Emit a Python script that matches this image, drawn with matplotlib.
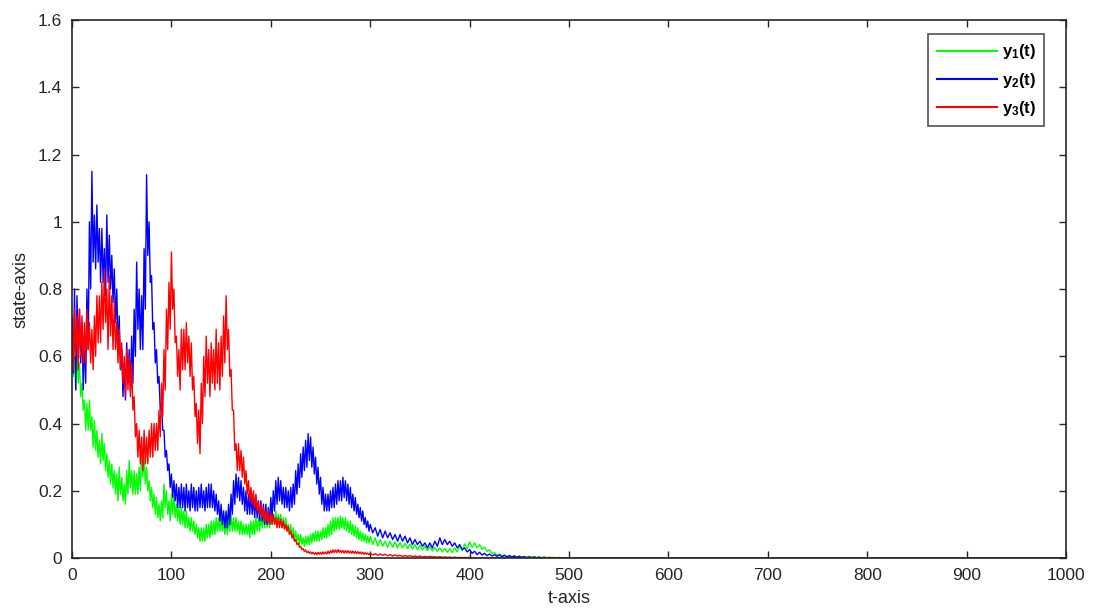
import numpy as np
import matplotlib
matplotlib.use("Agg")
import matplotlib.pyplot as plt

# time grid: 0..297.5 step 2.5, 300..500 step 5 ; each series given as
# upper and lower edge of its noisy band
t_dense = np.arange(0, 300, 2.5)
t_sparse = np.arange(300, 505, 5)

y2_hi = [0.72, 0.80, 0.78, 0.74, 0.70, 0.66, 0.80, 1.00, 1.15, 1.02,
         1.05, 0.98, 0.98, 0.92, 1.02, 0.96, 0.90, 0.86, 0.80, 0.72,
         0.62, 0.58, 0.64, 0.62, 0.66, 0.74, 0.88, 0.80, 0.78, 0.92,
         1.14, 1.00, 0.84, 0.70, 0.62, 0.54, 0.46, 0.38, 0.32, 0.28,
         0.25, 0.23, 0.22, 0.21, 0.22, 0.21, 0.22, 0.20, 0.22, 0.21,
         0.20, 0.21, 0.22, 0.20, 0.21, 0.22, 0.22, 0.20, 0.19, 0.17,
         0.16, 0.14, 0.14, 0.16, 0.19, 0.23, 0.25, 0.24, 0.23, 0.21,
         0.20, 0.19, 0.19, 0.18, 0.18, 0.17, 0.17, 0.16, 0.16, 0.15,
         0.18, 0.20, 0.23, 0.24, 0.23, 0.21, 0.21, 0.20, 0.21, 0.22,
         0.26, 0.28, 0.31, 0.33, 0.35, 0.37, 0.36, 0.33, 0.30, 0.27,
         0.24, 0.21, 0.19, 0.19, 0.20, 0.21, 0.22, 0.23, 0.23, 0.24,
         0.23, 0.22, 0.21, 0.19, 0.18, 0.16, 0.15, 0.14, 0.12, 0.11,
         0.10, 0.09, 0.085, 0.08, 0.075, 0.07, 0.07, 0.065, 0.06, 0.055,
         0.05, 0.045, 0.045, 0.05, 0.06, 0.055, 0.05, 0.045, 0.04, 0.03,
         0.025, 0.02, 0.017, 0.014, 0.012, 0.01, 0.009, 0.008, 0.007, 0.006,
         0.005, 0.004, 0.003, 0.003, 0.002, 0.002, 0.001, 0.001, 0.0, 0.0,
         0.0]
y2_lo = [0.55, 0.50, 0.60, 0.58, 0.50, 0.52, 0.62, 0.80, 0.88, 0.86,
         0.88, 0.82, 0.82, 0.78, 0.82, 0.80, 0.76, 0.70, 0.62, 0.56,
         0.48, 0.47, 0.52, 0.50, 0.52, 0.60, 0.68, 0.62, 0.62, 0.74,
         0.90, 0.82, 0.68, 0.58, 0.52, 0.44, 0.38, 0.30, 0.26, 0.21,
         0.18, 0.17, 0.15, 0.15, 0.15, 0.14, 0.15, 0.14, 0.15, 0.14,
         0.14, 0.15, 0.15, 0.14, 0.15, 0.15, 0.15, 0.14, 0.13, 0.11,
         0.10, 0.09, 0.09, 0.10, 0.13, 0.16, 0.18, 0.17, 0.16, 0.14,
         0.13, 0.13, 0.13, 0.12, 0.12, 0.11, 0.11, 0.10, 0.10, 0.10,
         0.12, 0.14, 0.16, 0.17, 0.16, 0.15, 0.15, 0.14, 0.15, 0.16,
         0.19, 0.21, 0.24, 0.26, 0.27, 0.29, 0.27, 0.25, 0.22, 0.19,
         0.16, 0.14, 0.14, 0.14, 0.15, 0.15, 0.16, 0.17, 0.17, 0.18,
         0.17, 0.16, 0.15, 0.14, 0.13, 0.12, 0.11, 0.10, 0.09, 0.08,
         0.075, 0.065, 0.06, 0.06, 0.055, 0.05, 0.05, 0.045, 0.04, 0.04,
         0.035, 0.03, 0.03, 0.035, 0.04, 0.04, 0.035, 0.03, 0.025, 0.018,
         0.014, 0.01, 0.009, 0.007, 0.006, 0.005, 0.004, 0.003, 0.003, 0.002,
         0.002, 0.001, 0.001, 0.001, 0.0, 0.0, 0.0, 0.0, 0.0, 0.0,
         0.0]

y1_hi = [0.62, 0.60, 0.62, 0.58, 0.52, 0.47, 0.46, 0.47, 0.42, 0.41,
         0.38, 0.35, 0.37, 0.34, 0.31, 0.29, 0.28, 0.26, 0.25, 0.27,
         0.24, 0.22, 0.26, 0.29, 0.26, 0.26, 0.25, 0.27, 0.32, 0.30,
         0.27, 0.23, 0.21, 0.19, 0.18, 0.16, 0.17, 0.22, 0.20, 0.17,
         0.19, 0.19, 0.16, 0.15, 0.15, 0.14, 0.14, 0.12, 0.12, 0.11,
         0.10, 0.09, 0.09, 0.09, 0.10, 0.10, 0.11, 0.11, 0.12, 0.12,
         0.12, 0.11, 0.11, 0.12, 0.13, 0.12, 0.12, 0.11, 0.11, 0.10,
         0.10, 0.10, 0.11, 0.11, 0.12, 0.12, 0.12, 0.13, 0.13, 0.13,
         0.13, 0.13, 0.14, 0.13, 0.13, 0.12, 0.12, 0.10, 0.10, 0.09,
         0.08, 0.07, 0.07, 0.06, 0.065, 0.065, 0.07, 0.075, 0.08, 0.08,
         0.08, 0.09, 0.09, 0.10, 0.11, 0.12, 0.12, 0.12, 0.125, 0.12,
         0.12, 0.11, 0.11, 0.10, 0.095, 0.09, 0.08, 0.075, 0.07, 0.065,
         0.065, 0.06, 0.055, 0.05, 0.05, 0.048, 0.046, 0.044, 0.042, 0.04,
         0.038, 0.036, 0.034, 0.032, 0.03, 0.028, 0.028, 0.03, 0.035, 0.042,
         0.048, 0.045, 0.04, 0.032, 0.024, 0.016, 0.012, 0.009, 0.008, 0.007,
         0.006, 0.005, 0.005, 0.004, 0.004, 0.003, 0.003, 0.002, 0.002, 0.001,
         0.0]
y1_lo = [0.54, 0.50, 0.52, 0.48, 0.44, 0.38, 0.38, 0.38, 0.33, 0.32,
         0.30, 0.28, 0.29, 0.26, 0.24, 0.22, 0.21, 0.19, 0.17, 0.19,
         0.17, 0.16, 0.19, 0.21, 0.19, 0.19, 0.19, 0.20, 0.24, 0.22,
         0.20, 0.17, 0.15, 0.13, 0.12, 0.11, 0.12, 0.15, 0.13, 0.11,
         0.13, 0.12, 0.11, 0.10, 0.10, 0.09, 0.09, 0.08, 0.08, 0.07,
         0.06, 0.05, 0.05, 0.05, 0.06, 0.06, 0.07, 0.07, 0.08, 0.08,
         0.08, 0.07, 0.07, 0.08, 0.08, 0.08, 0.08, 0.07, 0.07, 0.07,
         0.07, 0.06, 0.07, 0.07, 0.08, 0.08, 0.09, 0.09, 0.09, 0.09,
         0.10, 0.10, 0.10, 0.10, 0.09, 0.09, 0.08, 0.07, 0.06, 0.05,
         0.05, 0.04, 0.04, 0.035, 0.04, 0.04, 0.045, 0.05, 0.05, 0.05,
         0.055, 0.06, 0.06, 0.065, 0.07, 0.08, 0.085, 0.085, 0.09, 0.085,
         0.08, 0.075, 0.07, 0.065, 0.06, 0.055, 0.05, 0.05, 0.045, 0.045,
         0.04, 0.035, 0.035, 0.032, 0.032, 0.03, 0.03, 0.028, 0.026, 0.025,
         0.024, 0.022, 0.021, 0.02, 0.018, 0.017, 0.016, 0.018, 0.022, 0.028,
         0.032, 0.03, 0.026, 0.02, 0.014, 0.009, 0.006, 0.004, 0.003, 0.003,
         0.002, 0.002, 0.002, 0.001, 0.001, 0.001, 0.001, 0.0, 0.0, 0.0,
         0.0]

y3_hi = [0.70, 0.74, 0.72, 0.74, 0.72, 0.70, 0.74, 0.70, 0.68, 0.72,
         0.78, 0.78, 0.82, 0.86, 0.80, 0.84, 0.78, 0.76, 0.70, 0.68,
         0.64, 0.60, 0.62, 0.60, 0.58, 0.48, 0.40, 0.38, 0.36, 0.38,
         0.36, 0.38, 0.40, 0.40, 0.40, 0.44, 0.52, 0.62, 0.74, 0.82,
         0.91, 0.80, 0.66, 0.62, 0.68, 0.68, 0.70, 0.66, 0.64, 0.54,
         0.46, 0.44, 0.52, 0.60, 0.66, 0.62, 0.64, 0.62, 0.68, 0.64,
         0.66, 0.72, 0.78, 0.68, 0.56, 0.44, 0.34, 0.34, 0.32, 0.30,
         0.26, 0.23, 0.21, 0.20, 0.19, 0.17, 0.16, 0.15, 0.14, 0.14,
         0.13, 0.13, 0.12, 0.12, 0.115, 0.11, 0.10, 0.095, 0.08, 0.07,
         0.055, 0.045, 0.035, 0.028, 0.024, 0.02, 0.018, 0.017, 0.016, 0.017,
         0.017, 0.018, 0.018, 0.02, 0.022, 0.024, 0.024, 0.025, 0.023, 0.022,
         0.022, 0.022, 0.021, 0.021, 0.02, 0.019, 0.018, 0.017, 0.016, 0.015,
         0.014, 0.013, 0.012, 0.011, 0.01, 0.009, 0.008, 0.007, 0.007, 0.006,
         0.006, 0.005, 0.005, 0.004, 0.004, 0.003, 0.003, 0.003, 0.002, 0.002,
         0.002, 0.001, 0.001, 0.001, 0.001, 0.001, 0.001, 0.001, 0.0, 0.0,
         0.0, 0.0, 0.0, 0.0, 0.0, 0.0, 0.0, 0.0, 0.0, 0.0,
         0.0]
y3_lo = [0.56, 0.60, 0.56, 0.60, 0.58, 0.58, 0.62, 0.58, 0.56, 0.60,
         0.64, 0.64, 0.68, 0.70, 0.62, 0.66, 0.62, 0.62, 0.58, 0.56,
         0.52, 0.48, 0.50, 0.48, 0.44, 0.36, 0.30, 0.28, 0.26, 0.28,
         0.28, 0.30, 0.30, 0.32, 0.32, 0.36, 0.42, 0.50, 0.62, 0.68,
         0.74, 0.64, 0.54, 0.50, 0.56, 0.56, 0.58, 0.54, 0.50, 0.42,
         0.34, 0.31, 0.40, 0.48, 0.52, 0.48, 0.52, 0.50, 0.52, 0.50,
         0.54, 0.58, 0.62, 0.54, 0.44, 0.32, 0.26, 0.26, 0.24, 0.22,
         0.19, 0.17, 0.16, 0.15, 0.14, 0.13, 0.12, 0.11, 0.11, 0.10,
         0.10, 0.10, 0.09, 0.09, 0.09, 0.085, 0.08, 0.07, 0.06, 0.05,
         0.04, 0.032, 0.025, 0.02, 0.016, 0.014, 0.012, 0.011, 0.01, 0.011,
         0.011, 0.012, 0.012, 0.013, 0.015, 0.016, 0.016, 0.017, 0.016, 0.015,
         0.015, 0.015, 0.014, 0.014, 0.013, 0.013, 0.012, 0.011, 0.011, 0.01,
         0.009, 0.008, 0.008, 0.007, 0.006, 0.006, 0.005, 0.005, 0.004, 0.004,
         0.003, 0.003, 0.003, 0.002, 0.002, 0.002, 0.001, 0.001, 0.001, 0.001,
         0.001, 0.0, 0.0, 0.0, 0.0, 0.0, 0.0, 0.0, 0.0, 0.0,
         0.0, 0.0, 0.0, 0.0, 0.0, 0.0, 0.0, 0.0, 0.0, 0.0,
         0.0]

t_end = 1000
labels = [r'$\mathregular{y_1}$(t)', r'$\mathregular{y_2}$(t)', r'$\mathregular{y_3}$(t)']
colors = ['#00ff00', '#0000ff', '#ff0000']


def noisy_path(hi, lo):
    """Alternate between the read upper and lower band edges."""
    grid = np.concatenate([t_dense, t_sparse])
    half = np.concatenate([np.full(len(t_dense), 1.25), np.full(len(t_sparse), 2.5)])
    tt = np.empty(2 * len(grid))
    yy = np.empty(2 * len(grid))
    tt[0::2] = grid
    tt[1::2] = grid + half
    yy[0::2] = hi
    yy[1::2] = lo
    tt = np.append(tt, t_end)
    yy = np.append(yy, 0.0)
    return tt, yy


plt.rcParams['font.family'] = ['Liberation Sans', 'DejaVu Sans']
plt.rcParams['mathtext.default'] = 'regular'

fig = plt.figure(figsize=(10.98, 6.12), dpi=100)
ax = fig.add_axes([0.0656, 0.0882, 0.9053, 0.8791])

for hi, lo, c, lab in zip([y1_hi, y2_hi, y3_hi], [y1_lo, y2_lo, y3_lo], colors, labels):
    tt, yy = noisy_path(hi, lo)
    ax.plot(tt, yy, color=c, lw=1.0, label=lab)

ax.set_xlim(0, 1000)
ax.set_ylim(0, 1.6)
ax.set_xticks(np.arange(0, 1001, 100))
ax.set_yticks(np.arange(0, 1.61, 0.2))
ax.set_yticklabels(['0', '0.2', '0.4', '0.6', '0.8', '1', '1.2', '1.4', '1.6'])
ax.tick_params(direction='in', length=5, width=1, top=True, right=True,
               labelsize=12.5, colors='#262626', pad=7)
for s in ax.spines.values():
    s.set_color('#262626')
    s.set_linewidth(1.2)
ax.set_xlabel('t-axis', fontsize=13, color='#262626', labelpad=5)
ax.set_ylabel('state-axis', fontsize=13, color='#262626', labelpad=6)

leg = ax.legend(loc='upper right', bbox_to_anchor=(0.978, 0.974), borderaxespad=0,
                prop={'weight': 'bold', 'size': 12}, frameon=True, fancybox=False,
                edgecolor='#262626', handlelength=3.6, borderpad=0.5,
                labelspacing=0.55, handletextpad=0.3)
leg.get_frame().set_linewidth(1.2)
for h in leg.get_lines():
    h.set_linewidth(1.5)

fig.savefig('out.png', dpi=100)
